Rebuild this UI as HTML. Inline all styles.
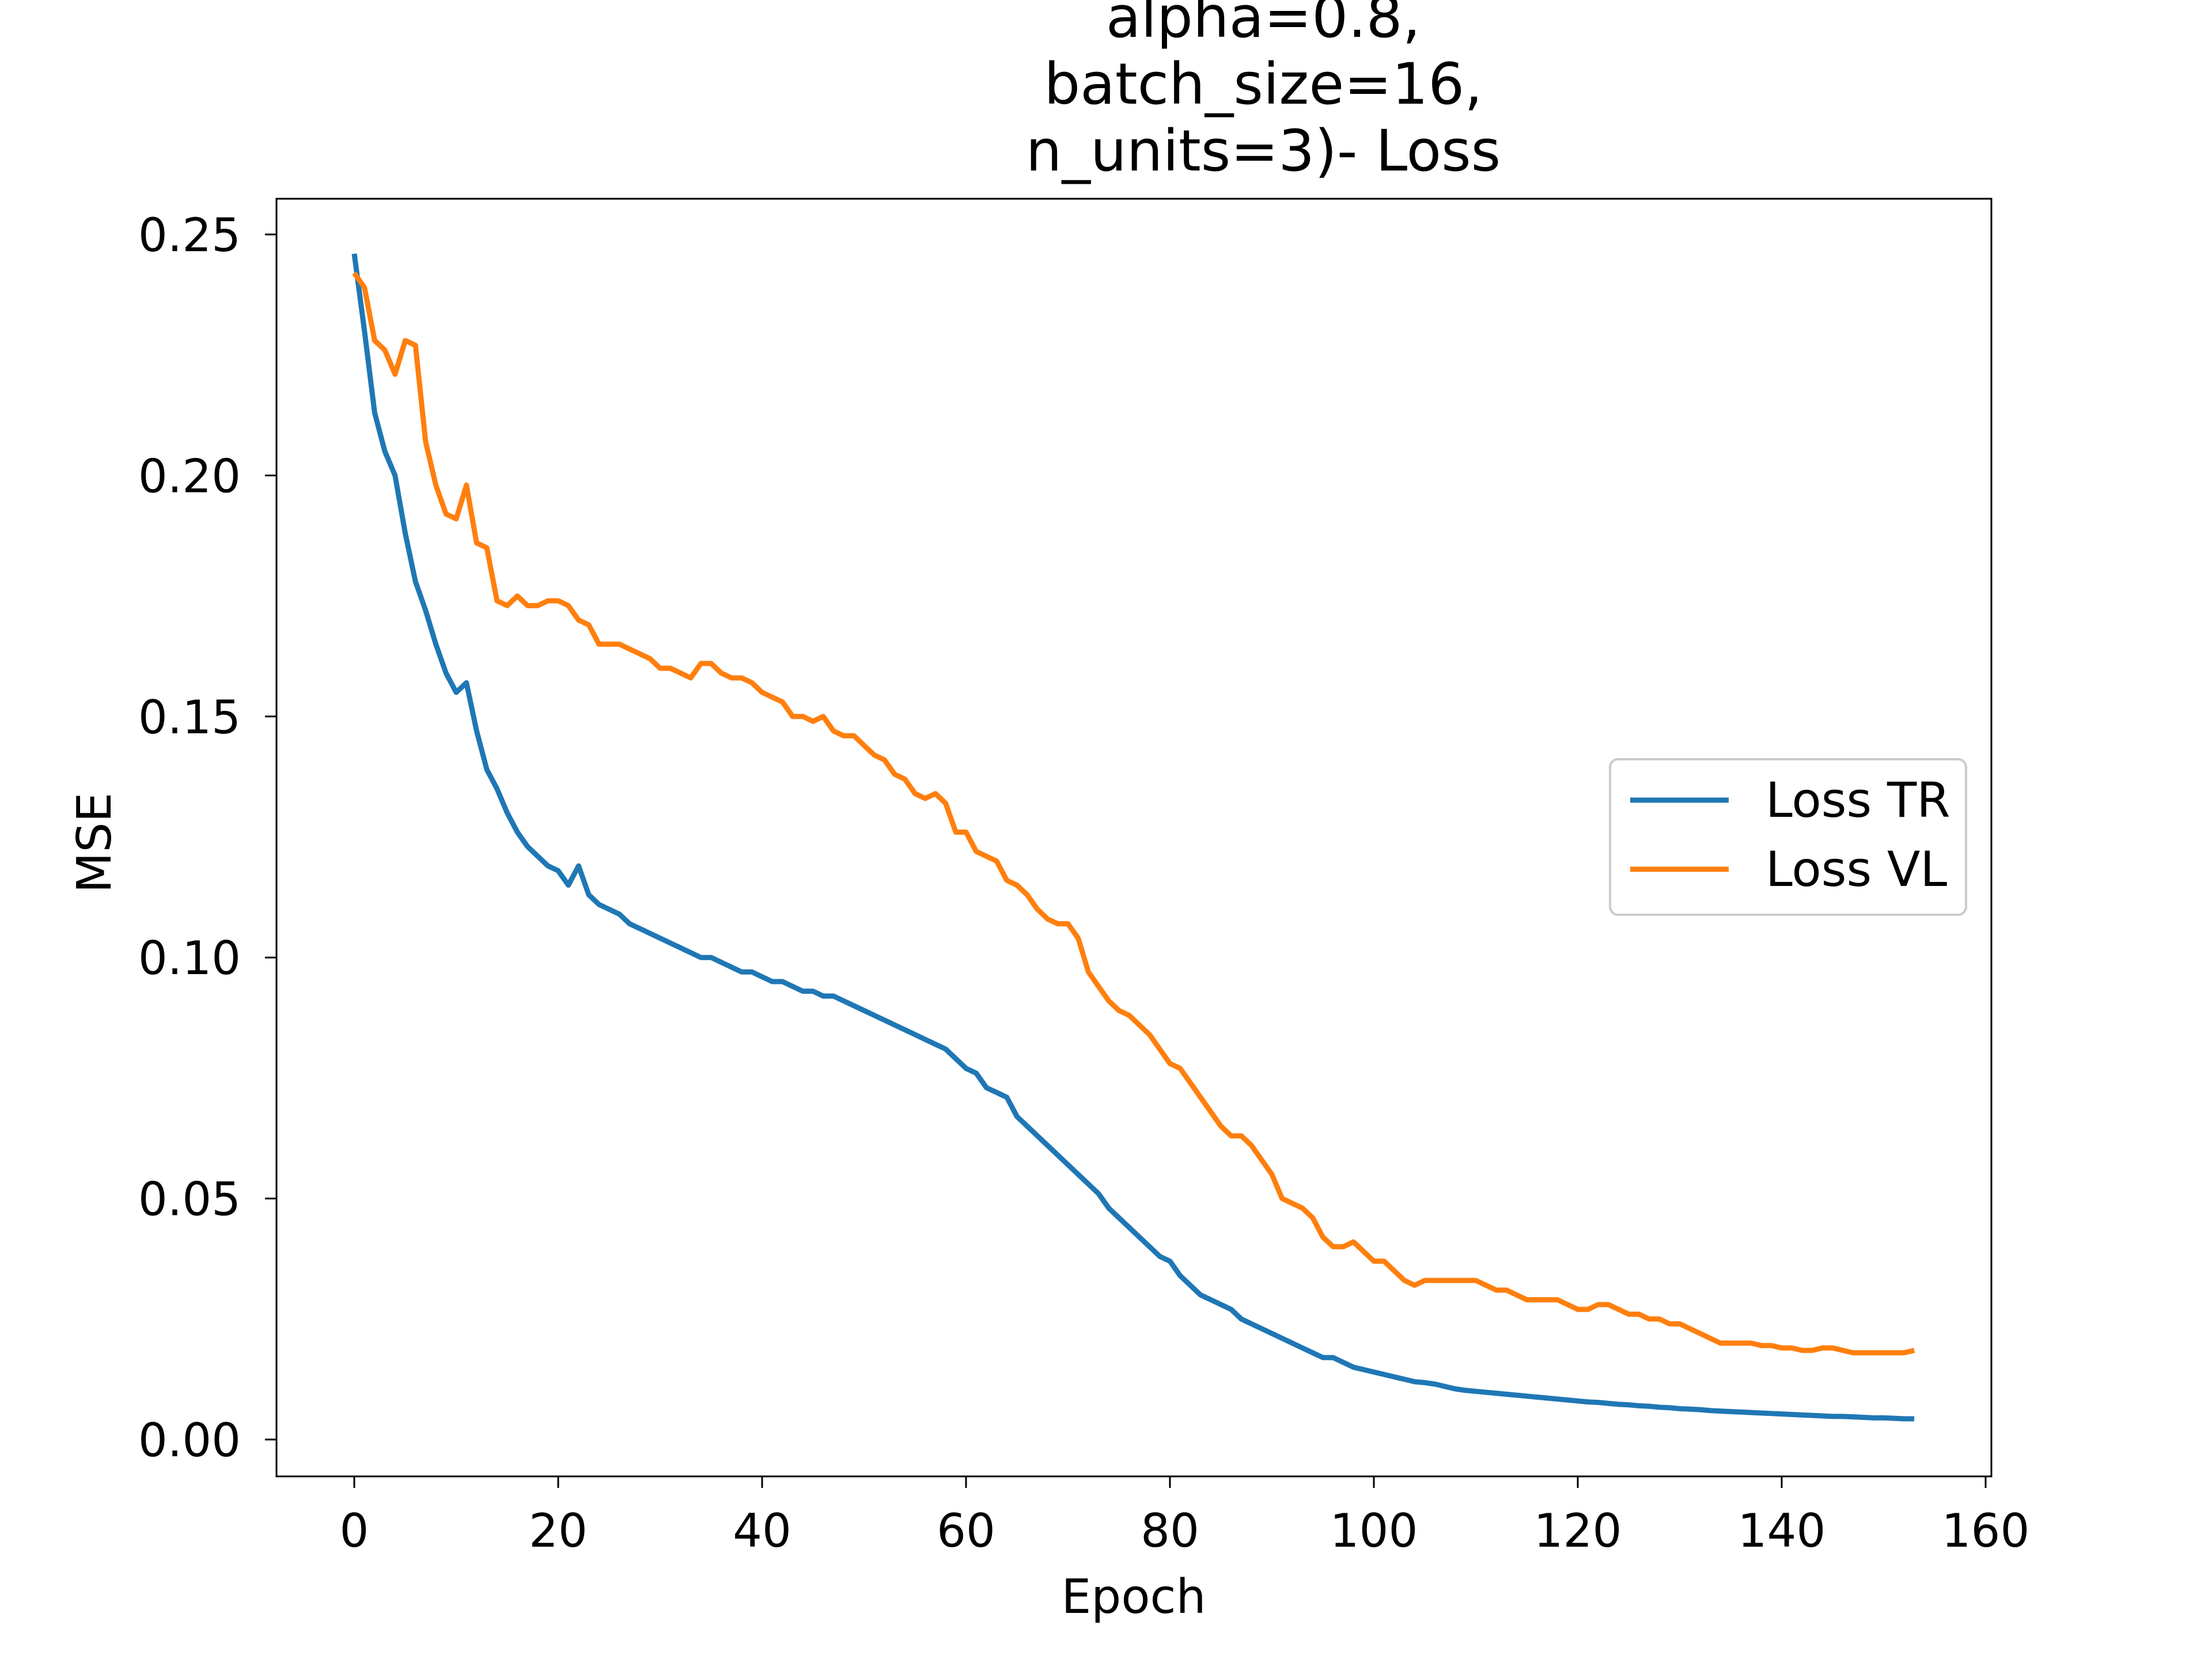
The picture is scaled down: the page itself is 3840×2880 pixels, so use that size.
<!DOCTYPE html>
<html><head><meta charset="utf-8"><style>html,body{margin:0;padding:0;background:#fff}svg{display:block}text{font-family:"DejaVu Sans","Liberation Sans",sans-serif;fill:#000}</style></head>
<body>
<svg id="chart" width="3840" height="2880" viewBox="0 0 3840 2880" xmlns="http://www.w3.org/2000/svg">
<rect width="3840" height="2880" fill="#fff"/>
<g font-size="99" text-anchor="middle">
<text x="2193" y="64">alpha=0.8,</text>
<text x="2193" y="180">batch_size=16,</text>
<text x="2193" y="296">n_units=3)- Loss</text>
</g>
<g id="plot"></g>
<rect x="480" y="345" width="2977" height="2218" fill="none" stroke="#000" stroke-width="3"/>
<text x="1968" y="2800" font-size="82" text-anchor="middle">Epoch</text>
<text x="192" y="1463" font-size="82" text-anchor="middle" transform="rotate(-90 192 1463)">MSE</text>
<g>
<rect x="2795" y="1318" width="618" height="270" rx="14" fill="#fff" fill-opacity="0.8" stroke="#ccc" stroke-width="4"/>
<line x1="2830" y1="1389" x2="3001" y2="1389" stroke="#1f77b4" stroke-width="9"/>
<text x="3065" y="1418" font-size="84">Loss TR</text>
<line x1="2830" y1="1509" x2="3001" y2="1509" stroke="#ff7f0e" stroke-width="9"/>
<text x="3065" y="1538" font-size="84">Loss VL</text>
</g>
</svg>
<script>
const xTicks=[0,20,40,60,80,100,120,140,160];
const yTicks=[0.00,0.05,0.10,0.15,0.20,0.25];
const lossTR=[0.246,0.23,0.213,0.205,0.200,0.188,0.178,0.172,0.165,0.159,0.155,0.157,0.147,0.139,0.135,0.130,0.126,0.123,0.121,0.119,0.118,0.115,0.119,0.113,0.111,0.110,0.109,0.107,0.106,0.105,0.104,0.103,0.102,0.101,0.100,0.100,0.099,0.098,0.097,0.097,0.096,0.095,0.095,0.094,0.093,0.093,0.092,0.092,0.091,0.090,0.089,0.088,0.087,0.086,0.085,0.084,0.083,0.082,0.081,0.079,0.077,0.076,0.073,0.072,0.071,0.067,0.065,0.063,0.061,0.059,0.057,0.055,0.053,0.051,0.048,0.046,0.044,0.042,0.040,0.038,0.037,0.034,0.032,0.030,0.029,0.028,0.027,0.025,0.024,0.023,0.022,0.021,0.020,0.019,0.018,0.017,0.017,0.016,0.015,0.0145,0.014,0.0135,0.013,0.0125,0.012,0.0118,0.0115,0.011,0.0105,0.0102,0.010,0.0098,0.0096,0.0094,0.0092,0.009,0.0088,0.0086,0.0084,0.0082,0.008,0.0078,0.0077,0.0075,0.0073,0.0072,0.007,0.0069,0.0067,0.0066,0.0064,0.0063,0.0062,0.006,0.0059,0.0058,0.0057,0.0056,0.0055,0.0054,0.0053,0.0052,0.0051,0.005,0.0049,0.0048,0.0048,0.0047,0.0046,0.0045,0.0045,0.0044,0.0043,0.0043];
const lossVL=[0.242,0.239,0.228,0.226,0.221,0.228,0.227,0.207,0.198,0.192,0.191,0.198,0.186,0.185,0.174,0.173,0.175,0.173,0.173,0.174,0.174,0.173,0.170,0.169,0.165,0.165,0.165,0.164,0.163,0.162,0.160,0.160,0.159,0.158,0.161,0.161,0.159,0.158,0.158,0.157,0.155,0.154,0.153,0.150,0.150,0.149,0.150,0.147,0.146,0.146,0.144,0.142,0.141,0.138,0.137,0.134,0.133,0.134,0.132,0.126,0.126,0.122,0.121,0.120,0.116,0.115,0.113,0.110,0.108,0.107,0.107,0.104,0.097,0.094,0.091,0.089,0.088,0.086,0.084,0.081,0.078,0.077,0.074,0.071,0.068,0.065,0.063,0.063,0.061,0.058,0.055,0.050,0.049,0.048,0.046,0.042,0.040,0.040,0.041,0.039,0.037,0.037,0.035,0.033,0.032,0.033,0.033,0.033,0.033,0.033,0.033,0.032,0.031,0.031,0.030,0.029,0.029,0.029,0.029,0.028,0.027,0.027,0.028,0.028,0.027,0.026,0.026,0.025,0.025,0.024,0.024,0.023,0.022,0.021,0.020,0.020,0.020,0.020,0.0195,0.0195,0.019,0.019,0.0185,0.0185,0.019,0.019,0.0185,0.018,0.018,0.018,0.018,0.018,0.018,0.0185];
const NS="http://www.w3.org/2000/svg";
const X0=615,XS=(3447-615)/160,Y0=2499,YS=(2499-407)/0.25;
function xp(v){return X0+v*XS;}
function yp(v){return Y0-v*YS;}
const g=document.getElementById('plot');
function mk(t,a){const e=document.createElementNS(NS,t);for(const k in a)e.setAttribute(k,a[k]);g.appendChild(e);return e;}
xTicks.forEach(t=>{
 const l=mk('line',{x1:xp(t),x2:xp(t),y1:2563,y2:2583,stroke:'#000','stroke-width':3});
 
 
 const s=mk('text',{x:xp(t),y:2685,'font-size':80,'text-anchor':'middle'});s.textContent=t;
 
 
});
yTicks.forEach(t=>{
 const l=mk('line',{x1:460,x2:480,y1:yp(t),y2:yp(t),stroke:'#000','stroke-width':3});
 
 
 const s=mk('text',{x:418,y:yp(t)+29,'font-size':80,'text-anchor':'end'});s.textContent=t.toFixed(2);
 
 
});
function line(arr,c,name){
 const p=mk('polyline',{points:arr.map((v,i)=>xp(i)+','+yp(v)).join(' '),fill:'none',stroke:c,'stroke-width':9,'stroke-linejoin':'round'});
 
 
}
line(lossTR,'#1f77b4','loss-tr-line');
line(lossVL,'#ff7f0e','loss-vl-line');
</script>
</body></html>
